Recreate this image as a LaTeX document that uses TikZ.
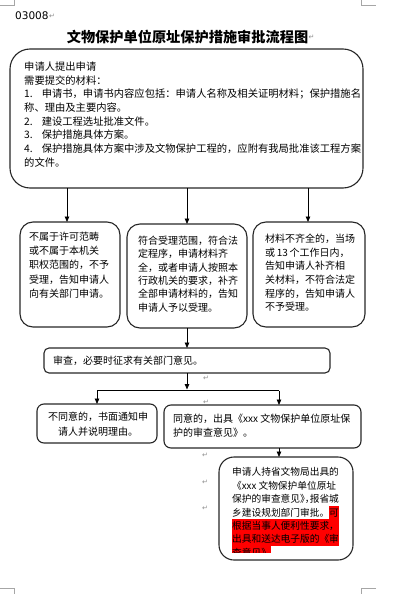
\documentclass[tikz,border=0pt]{standalone}
\usepackage{fontspec}
\setmainfont{Noto Sans CJK SC}
\newfontfamily\dejavu{DejaVu Sans}
\usetikzlibrary{arrows.meta}
\setlength{\fboxsep}{0pt}
\newcommand\hlred[1]{\colorbox{red}{\rule[-3pt]{0pt}{13.4pt}#1}}
\newcommand\halfw[1]{{\addfontfeature{RawFeature=+halt}#1}}
\tikzset{
  box/.style={draw=black!85, line width=1.1pt, inner sep=0pt, outer sep=0pt},
  txt/.style={inner sep=0pt, anchor=north west, align=left},
  arr/.style={-{Triangle[length=5.5pt,width=4.5pt]}, line width=0.8pt, draw=black},
  cornermark/.style={draw=black!35, line width=0.8pt},
  retmark/.style={text=black!45, font=\dejavu\fontsize{7}{7}\selectfont, inner sep=0pt, anchor=west},
}
\begin{document}
\begin{tikzpicture}[x=1pt,y=-1pt]
\useasboundingbox (0,0) rectangle (404,594);
% page corner marks
\draw[cornermark] (14,0) -- (14,5) -- (0,5);
\draw[cornermark] (361,0) -- (361,5) -- (376,5);
\draw[cornermark] (0,588) -- (14,588) -- (14,594);
\draw[cornermark] (376,588) -- (361,588) -- (361,594);
% header
\node[inner sep=0pt, anchor=west, font=\dejavu\fontsize{10.5}{12}\selectfont] (code) at (15,16) {03008};
\node[retmark] (r0) at (code.east) {↵};
\node[inner sep=0pt, font=\bfseries\fontsize{14.2}{16}\selectfont] (title) at (187.5,37) {文物保护单位原址保护措施审批流程图};
\node[retmark] (r1) at (title.east) {↵};
% boxes
\node[box, rounded corners=20pt, minimum width=353pt, minimum height=139pt] (top) at (186.5,118.5) {};
\node[box, rounded corners=13pt, minimum width=100pt, minimum height=105pt] (A) at (70,274.5) {};
\node[box, rounded corners=13pt, minimum width=120pt, minimum height=104pt] (B) at (187,276) {};
\node[box, rounded corners=13pt, minimum width=112pt, minimum height=105pt] (C) at (309,274.5) {};
\node[box, rounded corners=5pt, minimum width=286pt, minimum height=25pt] (rev) at (187,360.5) {};
\node[box, rounded corners=7pt, minimum width=120pt, minimum height=39pt] (D) at (97,423.5) {};
\node[box, rounded corners=7pt, minimum width=197pt, minimum height=43pt] (E) at (262.5,426.5) {};
% texts
\node[txt, font=\fontsize{10.3}{13.7}\selectfont] (ttop) at (24,61.5) {申请人提出申请\\需要提交的材料：\\1.\hspace{9pt}申请书，申请书内容应包括：申请人名称及相关证明材料；保护措施名\\称、理由及主要内容。\\2.\hspace{9pt}建设工程选址批准文件。\\3.\hspace{9pt}保护措施具体方案。\\4.\hspace{9pt}保护措施具体方案中涉及文物保护工程的，应附有我局批准该工程方案\\的文件。};
\node[txt, font=\fontsize{10}{14.3}\selectfont] (tA) at (29,231.5) {不属于许可范畴\\或不属于本机关\\职权范围的，不予\\受理，告知申请人\\向有关部门申请。};
\node[txt, font=\fontsize{10}{13.3}\selectfont] (tB) at (138,236) {符合受理范围，符合法\\定程序，申请材料齐\\全，或者申请人按照本\\行政机关的要求，补齐\\全部申请材料的，告知\\申请人予以受理。};
\node[txt, font=\fontsize{10}{13.6}\selectfont] (tC) at (265,234) {材料不齐全的，当场\\或\,13\,个工作日内，\\告知申请人补齐相\\关材料，不符合法定\\程序的，告知申请人\\不予受理。};
\node[inner sep=0pt, anchor=west, font=\fontsize{10}{12}\selectfont] (tR) at (53,361) {审查，必要时征求有关部门意见。};
\node[inner sep=0pt, align=center, font=\fontsize{10}{15}\selectfont] (tD) at (98,424.5) {不同意的，书面通知申\\请人并说明理由。};
\node[txt, font=\fontsize{10}{13.5}\selectfont] (tE) at (173,414) {同意的，出具《xxx 文物保护单位原址保\\护的审查意见》。};
\begin{scope}
\clip (219,457) rectangle (353,552);
\node[txt, font=\fontsize{9.7}{13.4}\selectfont] (tF) at (232,467.5) {申请人持省文物局出具的\\《xxx 文物保护单位原址\\保护的审查意见\halfw{》，}报省城\\乡建设规划部门审批。\hlred{可}\\\hlred{根据当事人便利性要求，}\\\hlred{出具和送达电子版的《审}\\\hlred{查意见》}。};
\end{scope}
\node[box, rounded corners=15pt, minimum width=134pt, minimum height=103pt] (F) at (286,508.5) {};
% return marks
\node[retmark] (r2) at (203,378) {↵};
\node[retmark] (r3) at (203,402) {↵};
\node[retmark] (r4) at (202,455) {↵};
\node[retmark] (r5) at (202,482) {↵};
\node[retmark] (r6) at (202,508) {↵};
% connectors
\coordinate (xa) at (67,0);
\coordinate (xc) at (308,0);
\draw[arr] (top.south -| xa) -- (A.north -| xa);
\draw[arr] (top.south -| B.north) -- (B.north);
\draw[arr] (top.south -| xc) -- (C.north -| xc);
\draw[arr] (B.south) -- (rev.north -| B.south);
\coordinate (j) at (187,389.5);
\coordinate (jl) at (97,390.5);
\coordinate (jr) at (279,390.5);
\draw[arr] (rev.south) -- (j);
\draw[line width=0.8pt] (jl) -- (jr);
\draw[arr] (jl) -- (D.north -| jl);
\draw[arr] (jr) -- (E.north -| jr);
\draw[arr] (E.south -| jr) -- (F.north -| jr);
\end{tikzpicture}
\end{document}
